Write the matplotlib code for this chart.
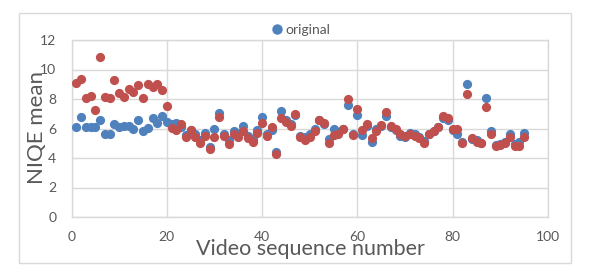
import matplotlib
matplotlib.use("Agg")
import matplotlib.pyplot as plt
from matplotlib.lines import Line2D
from matplotlib.patches import Rectangle

plt.rcParams['font.family'] = ['Lato', 'DejaVu Sans']

video_idx = list(range(1, 96))

original = [6.1, 6.8, 6.1, 6.1, 6.1, 6.6, 5.6, 5.65, 6.3, 6.1,
            6.15, 6.2, 6.0, 6.6, 5.85, 6.05, 6.7, 6.4, 6.85, 6.45,
            6.3, 6.35, 6.1, 5.55, 5.9, 5.6, 5.2, 5.7, 4.75, 5.95,
            7.05, 5.6, 5.2, 5.85, 5.7, 6.2, 5.5, 5.3, 5.9, 6.75,
            5.6, 5.9, 4.4, 7.2, 6.6, 6.3, 6.9, 5.5, 5.4, 5.6,
            6.0, 6.6, 6.3, 5.3, 5.95, 5.75, 6.0, 7.6, 5.6, 6.9,
            5.55, 6.2, 5.1, 5.95, 6.2, 6.85, 6.1, 5.9, 5.5, 5.4,
            5.7, 5.6, 5.4, 5.15, 5.65, 5.8, 6.1, 6.7, 6.6, 5.9,
            5.65, 5.1, 9.05, 5.3, 5.2, 5.05, 8.05, 5.85, 4.85, 4.95,
            5.1, 5.6, 4.95, 5.1, 5.7]

processed = [9.1, 9.35, 8.1, 8.2, 7.25, 10.85, 8.15, 8.05, 9.3, 8.4,
             8.15, 8.7, 8.45, 8.95, 8.05, 9.05, 8.8, 9.0, 8.6, 7.5,
             6.05, 5.9, 6.3, 5.4, 5.9, 5.45, 5.05, 5.5, 4.6, 5.45,
             6.75, 5.5, 4.95, 5.65, 5.45, 5.8, 5.35, 5.1, 5.7, 6.35,
             5.5, 6.1, 4.3, 6.7, 6.45, 6.2, 7.0, 5.4, 5.25, 5.45,
             5.8, 6.6, 6.35, 5.0, 5.55, 5.65, 5.95, 8.0, 5.55, 7.35,
             5.9, 6.3, 5.35, 5.8, 6.25, 7.15, 6.15, 5.95, 5.65, 5.5,
             5.65, 5.5, 5.35, 5.0, 5.65, 5.8, 6.1, 6.85, 6.7, 5.95,
             5.95, 5.0, 8.35, 5.35, 5.1, 5.0, 7.45, 5.65, 4.8, 4.9,
             5.0, 5.4, 4.8, 4.8, 5.4]

x_ticks = [0, 20, 40, 60, 80, 100]
y_ticks = [0, 2, 4, 6, 8, 10, 12]

BLUE = '#4F81BD'
RED = '#C0504D'
GRID = '#d9d9d9'
TXT = '#595959'

fig = plt.figure(figsize=(5.95, 2.72), dpi=100)
W, H = 595, 272
ax = fig.add_axes([71.5 / W, 1 - 217 / H, (548 - 71.5) / W, (217 - 40) / H])

ax.scatter(video_idx, original, s=44, color=BLUE, linewidths=0, zorder=3)
ax.scatter(video_idx, processed, s=44, color=RED, linewidths=0, zorder=4)

ax.set_xlim(0, 100)
ax.set_ylim(0, 12)
ax.set_xticks(x_ticks)
ax.set_yticks(y_ticks)
ax.grid(True, color=GRID, linewidth=1.0, zorder=0)
ax.set_axisbelow(True)
for sp in ax.spines.values():
    sp.set_color(GRID)
    sp.set_linewidth(1.0)
ax.tick_params(length=0, labelsize=10, colors=TXT)
ax.tick_params(axis='x', pad=10)
ax.tick_params(axis='y', pad=11)

fig.text(37 / W, 1 - 128 / H, 'NIQE mean', rotation=90, ha='center',
         va='center', fontsize=16, color=TXT)
fig.text(310 / W, 1 - 255 / H, 'Video sequence number', ha='center',
         va='baseline', fontsize=15.5, color=TXT)

handle = Line2D([], [], marker='o', linestyle='none', color=BLUE,
                markersize=7.5, markeredgewidth=0)
fig.legend(handles=[handle], labels=['original'], loc='center',
           bbox_to_anchor=(300 / W, 1 - 30 / H), frameon=False,
           fontsize=10, handletextpad=0.1, labelcolor=TXT,
           handlelength=1.0, borderpad=0)

fig.patches.append(Rectangle((19 / W, 1 - 263 / H), 552 / W, 250 / H,
                             transform=fig.transFigure, fill=False,
                             edgecolor=GRID, linewidth=1.0))

fig.savefig('out.png', dpi=100)
